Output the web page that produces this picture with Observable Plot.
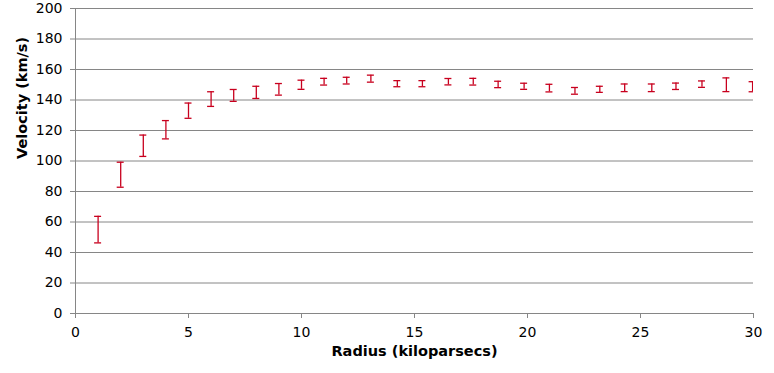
<!DOCTYPE html>
<html><head><meta charset="utf-8">
<script src="https://cdn.jsdelivr.net/npm/d3@7"></script>
<script src="https://cdn.jsdelivr.net/npm/@observablehq/plot@0.6"></script>
<style>body{margin:0;background:#fff;}</style>
</head><body><div id="chart"></div>
<script>
const radius   = [1, 2, 3, 4, 5, 6, 7, 8, 9, 10, 11, 12, 13.07, 14.24, 15.35, 16.5, 17.6, 18.7, 19.85, 20.97, 22.1, 23.2, 24.3, 25.5, 26.57, 27.72, 28.8, 29.96];
const velocity = [55, 91, 110, 120.5, 133, 140.6, 143, 145, 147, 150, 152, 152.7, 154, 150.7, 150.7, 152, 152, 150.2, 149, 147.8, 146, 147, 148, 148, 149, 150.4, 150, 148.7];
const error    = [8.7, 8.2, 7, 6, 5, 4.8, 3.9, 4, 3.8, 3, 2.2, 2.2, 2.3, 2, 2, 2.1, 2.2, 2.1, 2, 2.5, 2.2, 2, 2.5, 2.5, 2.1, 2.1, 4.5, 3.3];
const xTicks = [0, 5, 10, 15, 20, 25, 30];
const yTicks = [0, 20, 40, 60, 80, 100, 120, 140, 160, 180, 200];
const xTitle = "Radius (kiloparsecs)";
const yTitle = "Velocity (km/s)";

const data = radius.map((r, i) => ({r, v: velocity[i], lo: velocity[i] - error[i], hi: velocity[i] + error[i]}));
const red = "#c8001e", gray = "#868686";

const chart = Plot.plot({
  width: 774, height: 373,
  marginLeft: 75, marginRight: 21, marginTop: 8, marginBottom: 60,
  style: {fontFamily: "'DejaVu Sans', Verdana, sans-serif", fontSize: "14px", background: "#fff", color: "#000"},
  x: {domain: [0, 30]},
  y: {domain: [0, 200]},
  marks: [
    Plot.gridY(yTicks, {stroke: gray, strokeOpacity: 1}),
    Plot.ruleX([0], {stroke: gray}),
    Plot.ruleY([0], {stroke: gray}),
    Plot.axisX(xTicks, {tickSize: 5, tickPadding: 9, stroke: gray, fill: "#000", label: null}),
    Plot.axisY(yTicks, {tickSize: 5, tickPadding: 8, stroke: gray, fill: "#000", label: null}),
    Plot.ruleX(data, {x: "r", y1: "lo", y2: "hi", stroke: red, strokeWidth: 1.3, clip: true}),
    Plot.ruleY(data, {y: "hi", x1: "r", x2: "r", insetLeft: -3.5, insetRight: -3.5, stroke: red, strokeWidth: 1.3, clip: true}),
    Plot.ruleY(data, {y: "lo", x1: "r", x2: "r", insetLeft: -3.5, insetRight: -3.5, stroke: red, strokeWidth: 1.3, clip: true}),
    Plot.text([xTitle], {frameAnchor: "bottom", dy: 42, fontWeight: "bold", fontSize: 14.5, fill: "#000"}),
    Plot.text([yTitle], {frameAnchor: "left", dx: -53, dy: -2, rotate: -90, fontWeight: "bold", fontSize: 14.5, fill: "#000"})
  ]
});
document.getElementById("chart").append(chart);
</script>
</body></html>
